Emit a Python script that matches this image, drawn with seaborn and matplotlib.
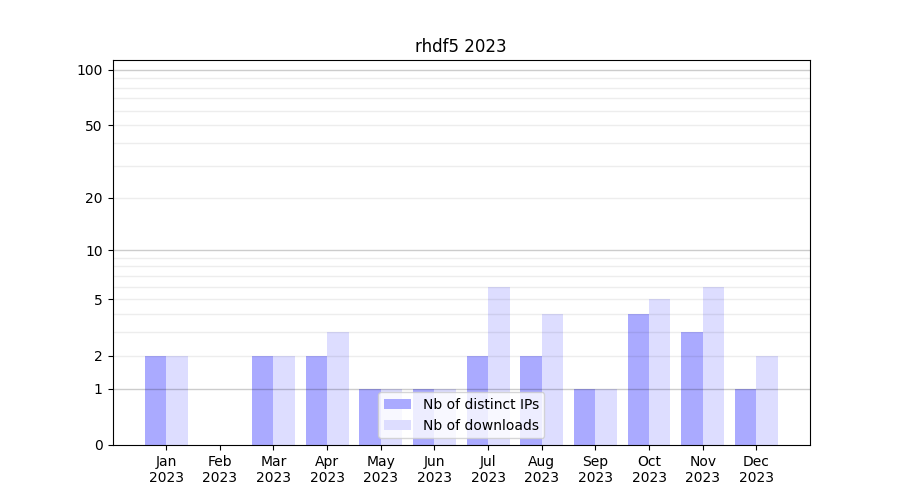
import numpy as np
import pandas as pd
import seaborn as sns
import matplotlib
matplotlib.use("Agg")
import matplotlib.pyplot as plt

# Data
months = ["Jan\n2023", "Feb\n2023", "Mar\n2023", "Apr\n2023", "May\n2023", "Jun\n2023",
          "Jul\n2023", "Aug\n2023", "Sep\n2023", "Oct\n2023", "Nov\n2023", "Dec\n2023"]
distinct_ips = [2, 0, 2, 2, 1, 1, 2, 2, 1, 4, 3, 1]
downloads = [2, 0, 2, 3, 1, 1, 6, 4, 1, 5, 6, 2]
ytick_vals = [0, 1, 2, 5, 10, 20, 50, 100]

df = pd.DataFrame({
    "month": months * 2,
    "value": distinct_ips + downloads,
    "what": ["Nb of distinct IPs"] * len(months) + ["Nb of downloads"] * len(months),
})

fig, ax = plt.subplots(figsize=(9, 5), dpi=100)

# log(1+x) scale
ax.set_yscale("function", functions=(lambda x: np.log10(1 + np.clip(x, 0, None)),
                                     lambda y: 10 ** y - 1))

sns.barplot(data=df, x="month", y="value", hue="what", ax=ax,
            palette=["#aaaaff", "#ddddff"], saturation=1, width=0.8)

# grid lines: darker at decades, light in between
for v in [1, 10, 100]:
    ax.axhline(v, color="black", alpha=0.2, lw=1, zorder=2)
for d in [1, 10]:
    for k in range(2, 10):
        ax.axhline(k * d, color="black", alpha=0.07, lw=1, zorder=2)

ax.set_ylim(0, 113)
ax.set_xlim(-1, 12)
ax.set_yticks(ytick_vals)
ax.set_yticklabels([str(v) for v in ytick_vals])
ax.minorticks_off()
ax.set_xlabel("")
ax.set_ylabel("")
ax.set_title("rhdf5 2023")
ax.legend(loc="lower center", title=None)

fig.savefig("out.png", dpi=100)
